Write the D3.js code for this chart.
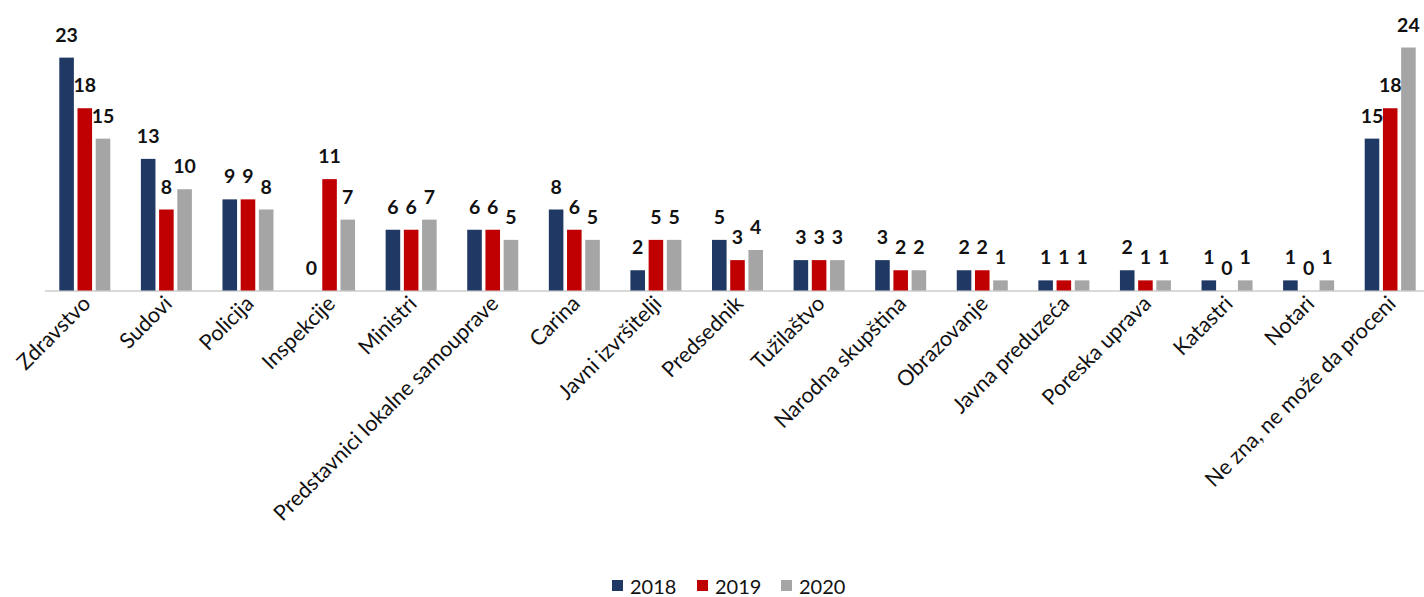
<!DOCTYPE html>
<html>
<head>
<meta charset="utf-8">
<script src="https://cdn.jsdelivr.net/npm/d3@7"></script>
<style>
  html, body { margin: 0; padding: 0; background: #fff; }
  svg { display: block; font-family: Lato, "Open Sans", sans-serif; }
</style>
</head>
<body>
<svg id="chart" width="1424" height="597"></svg>
<script>
const categories = ["Zdravstvo", "Sudovi", "Policija", "Inspekcije", "Ministri",
  "Predstavnici lokalne samouprave", "Carina", "Javni izvršitelji", "Predsednik",
  "Tužilaštvo", "Narodna skupština", "Obrazovanje", "Javna preduzeća",
  "Poreska uprava", "Katastri", "Notari", "Ne zna, ne može da proceni"];
const years = ["2018", "2019", "2020"];
const values2018 = [23, 13, 9, 0, 6, 6, 8, 2, 5, 3, 3, 2, 1, 2, 1, 1, 15];
const values2019 = [18, 8, 9, 11, 6, 6, 6, 5, 3, 3, 2, 2, 1, 1, 0, 0, 18];
const values2020 = [15, 10, 8, 7, 7, 5, 5, 5, 4, 3, 2, 1, 1, 1, 1, 1, 24];
const colors = ["#203864", "#c00000", "#a5a5a5"];

const series = [values2018, values2019, values2020];
const svg = d3.select("#chart");

const x0 = d3.scaleBand().domain(categories).range([44, 1431]);
const x1 = d3.scaleBand().domain(years).range([-25.5, 25.5]).paddingInner(0.2);
const y = d3.scaleLinear().domain([0, 24]).range([290.5, 47.5]);
const color = d3.scaleOrdinal().domain(years).range(colors);

const rows = categories.map((c, i) => ({
  cat: c,
  vals: years.map((yr, j) => ({ year: yr, value: series[j][i] }))
}));

// axis baseline
svg.append("line")
  .attr("x1", 45).attr("x2", 1424)
  .attr("y1", y(0) + 0.5).attr("y2", y(0) + 0.5)
  .attr("stroke", "#d9d9d9").attr("stroke-width", 2);

const groups = svg.append("g").selectAll("g").data(rows).join("g")
  .attr("transform", d => `translate(${x0(d.cat) + x0.bandwidth() / 2},0)`);

groups.selectAll("rect").data(d => d.vals).join("rect")
  .attr("x", d => x1(d.year))
  .attr("width", x1.bandwidth())
  .attr("y", d => y(d.value))
  .attr("height", d => y(0) - y(d.value))
  .attr("fill", d => color(d.year));

groups.selectAll("text.val").data(d => d.vals).join("text")
  .attr("class", "val")
  .attr("x", d => x1(d.year) + x1.bandwidth() / 2)
  .attr("y", d => y(d.value) - 16)
  .attr("text-anchor", "middle")
  .attr("font-size", 19.5)
  .attr("font-weight", 700)
  .attr("fill", "#111")
  .text(d => d.value);

// category labels
svg.append("g").selectAll("text").data(categories).join("text")
  .attr("transform", d => `translate(${x0(d) + x0.bandwidth() / 2 + 7},${305}) rotate(-45)`)
  .attr("text-anchor", "end")
  .attr("font-size", 21.5)
  .attr("fill", "#111")
  .text(d => d);

// legend
const legendX = [612, 697, 781];
const lg = svg.append("g").selectAll("g").data(years).join("g")
  .attr("transform", (d, i) => `translate(${legendX[i]},0)`);
lg.append("rect").attr("x", 0).attr("y", 580).attr("width", 11).attr("height", 11)
  .attr("fill", d => color(d));
lg.append("text").attr("x", 18).attr("y", 594)
  .attr("font-size", 20).attr("fill", "#111").text(d => d);
</script>
</body>
</html>
